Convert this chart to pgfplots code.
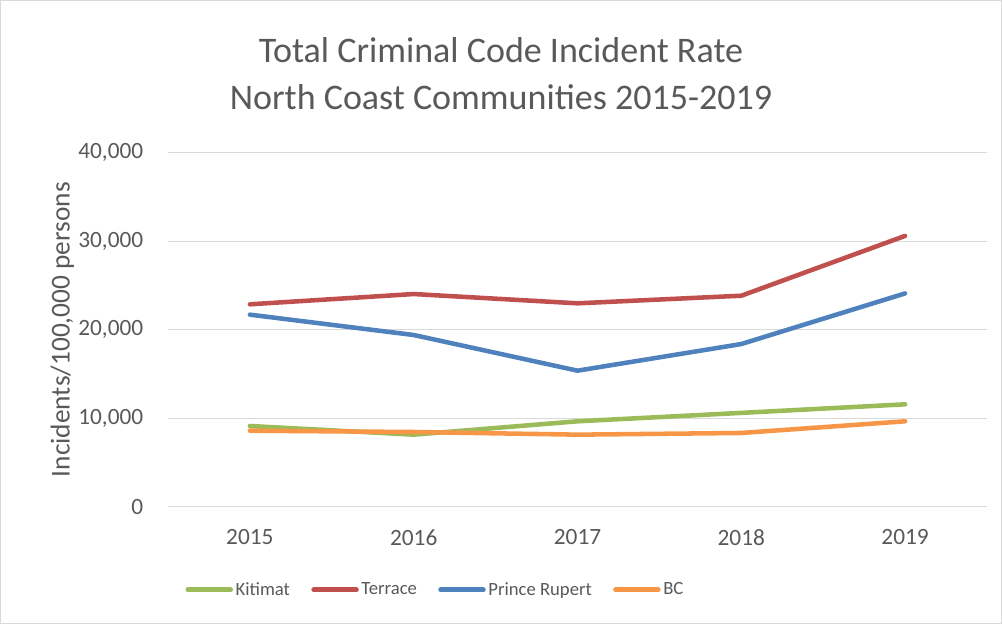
\documentclass[border=0pt]{standalone}
\usepackage{fontspec}
\setmainfont{Carlito}
\usepackage{pgfplots}
\pgfplotsset{compat=1.18}
\definecolor{kit}{HTML}{9BBB59}
\definecolor{ter}{HTML}{C0504D}
\definecolor{pr}{HTML}{4F81BD}
\definecolor{bc}{HTML}{F79646}
\definecolor{txt}{HTML}{595959}
\definecolor{gridc}{HTML}{D9D9D9}
\begin{document}
\begin{tikzpicture}[x=0.75pt,y=0.75pt]
\path[use as bounding box] (-168,-117.3) rectangle (834,506.7);
\draw[gridc, line width=0.75pt] (-167,-116.3) rectangle (833,505.7);
\node[font=\fontsize{27}{35}\selectfont, text=txt, align=center] at (333,433) {Total Criminal Code Incident Rate\\North Coast Communities 2015-2019};
\begin{axis}[
  scale only axis, width=614.25pt, height=265.5pt,
  xmin=-0.5, xmax=4.5, ymin=0, ymax=40000,
  xtick={0,1,2,3,4}, xticklabels={2015,2016,2017,2018,2019},
  ytick={0,10000,20000,30000,40000},
  scaled y ticks=false,
  /pgf/number format/.cd, 1000 sep={,}, assume math mode=true, /pgfplots/.cd,
  ymajorgrids, grid style={gridc, line width=0.75pt},
  axis x line*=bottom, axis y line*=left,
  x axis line style={gridc, line width=0.75pt, -},
  y axis line style={draw=none},
  major tick length=0pt,
  tick label style={font=\fontsize{17.5}{20}\selectfont, text=txt},
  yticklabel style={xshift=-15pt},
  xticklabel style={yshift=-13.5pt},
  every axis y label/.style={at={(axis description cs:-0.129,0.5)}, rotate=90, anchor=center},
  ylabel={Incidents/100,000 persons},
  ylabel style={font=\fontsize{20.5}{24}\selectfont, text=txt},
  legend columns=4,
  legend style={draw=none, at={(axis description cs:0.327,-0.235)}, anchor=center,
    font=\fontsize{14}{17}\selectfont, text=txt,
    /tikz/every even column/.append style={column sep=14pt}},
  legend image code/.code={\draw[#1, line width=3.6pt, line cap=round] (0pt,0pt) -- (32pt,0pt);},
  every axis plot/.append style={line width=3.4pt, line join=round, line cap=round},
]
\addplot[kit] coordinates {(0,9120) (1,8140) (2,9650) (3,10600) (4,11570)};
\addlegendentry{Kitimat}
\addplot[ter] coordinates {(0,22870) (1,24030) (2,22980) (3,23840) (4,30600)};
\addlegendentry{Terrace}
\addplot[pr] coordinates {(0,21700) (1,19400) (2,15370) (3,18380) (4,24100)};
\addlegendentry{Prince Rupert}
\addplot[bc] coordinates {(0,8590) (1,8440) (2,8140) (3,8330) (4,9650)};
\addlegendentry{BC}
\end{axis}
\end{tikzpicture}
\end{document}
